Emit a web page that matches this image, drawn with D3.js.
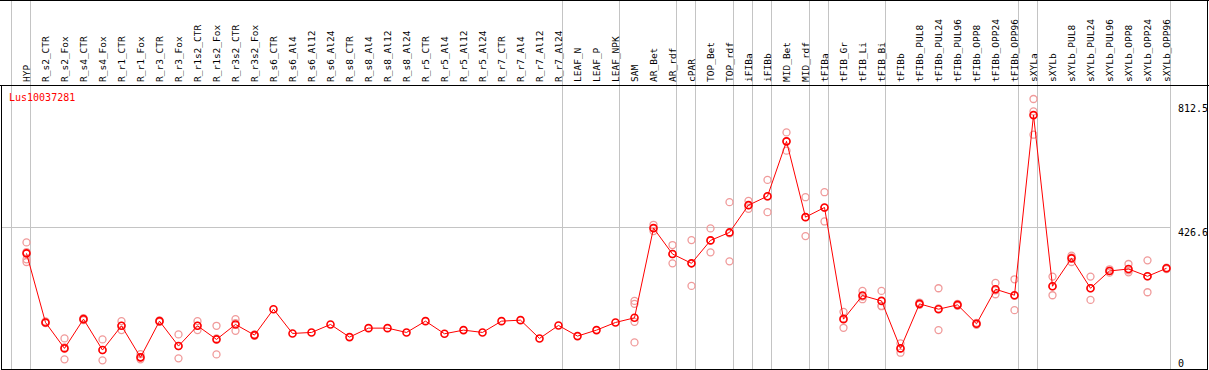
<!DOCTYPE html>
<html>
<head>
<meta charset="utf-8">
<script src="https://cdn.jsdelivr.net/npm/d3@7"></script>
<style>
body { margin: 0; background: #fff; }
svg text { font-family: "DejaVu Sans Mono", monospace; font-size: 10px; }
svg text.col { font-size: 9.5px; }
</style>
</head>
<body>
<svg class="chart" width="1209" height="370"></svg>
<script>
const categories = ['HYP', 'R_s2_CTR', 'R_s2_Fox', 'R_s4_CTR', 'R_s4_Fox', 'R_r1_CTR', 'R_r1_Fox', 'R_r3_CTR', 'R_r3_Fox',
    'R_r1s2_CTR', 'R_r1s2_Fox', 'R_r3s2_CTR', 'R_r3s2_Fox', 'R_s6_CTR', 'R_s6_Al4', 'R_s6_Al12', 'R_s6_Al24',
    'R_s8_CTR', 'R_s8_Al4', 'R_s8_Al12', 'R_s8_Al24', 'R_r5_CTR', 'R_r5_Al4', 'R_r5_Al12', 'R_r5_Al24',
    'R_r7_CTR', 'R_r7_Al4', 'R_r7_Al12', 'R_r7_Al24', 'LEAF_N', 'LEAF_P', 'LEAF_NPK', 'SAM', 'AR_Bet', 'AR_rdf',
    'cPAR', 'TOP_Bet', 'TOP_rdf', 'iFIBa', 'iFIBb', 'MID_Bet', 'MID_rdf', 'tFIBa', 'tFIB_Gr', 'tFIB_Li', 'tFIB_Bi',
    'tFIBb', 'tFIBb_PUL8', 'tFIBb_PUL24', 'tFIBb_PUL96', 'tFIBb_OPP8', 'tFIBb_OPP24', 'tFIBb_OPP96',
    'sXYLa', 'sXYLb', 'sXYLb_PUL8', 'sXYLb_PUL24', 'sXYLb_PUL96', 'sXYLb_OPP8', 'sXYLb_OPP24', 'sXYLb_OPP96']

const means = [348, 140, 62, 150, 57, 130, 35, 144, 69, 130, 89, 134, 102, 180, 107, 110, 134,
    96, 123, 123, 110, 144, 106, 117, 110, 144, 147, 92, 131, 99, 117, 140, 154, 424, 346,
    318, 387, 411, 493, 520, 685, 457, 486, 150, 221, 205, 62, 196, 180, 193, 136, 240, 222,
    764, 249, 333, 243, 295, 301, 279, 303]

const replicates = [[381, 352, 322, 330], [143, 140, 138], [92, 65, 29], [153, 150, 147], [89, 57, 26],
    [144, 130, 117], [45, 35, 29], [146, 144, 142], [104, 69, 32], [144, 130, 117], [130, 92, 44],
    [150, 138, 115], [104, 102, 100], [], [], [], [],
    [], [], [], [], [], [], [], [],
    [], [], [], [], [], [], [], [205, 196, 142, 80], [434, 424, 415], [373, 346, 318],
    [388, 318, 250], [423, 387, 351], [502, 408, 324], [506, 493, 482], [569, 519, 472], [712, 685, 657],
    [517, 457, 400], [532, 485, 444], [172, 152, 124], [235, 218, 210], [235, 190, 189],
    [77, 62, 49], [200, 197, 193], [243, 182, 117], [196, 193, 190], [139, 136, 133], [259, 237, 225], [270, 220, 177],
    [812.5, 775, 705], [278, 249, 222], [341, 336, 322], [278, 243, 208], [300, 295, 290], [316, 297, 291],
    [327, 279, 231], [305, 303, 301]]

// first category of every block; a grey rule is drawn in front of each
const groupStarts = ['HYP', 'R_s2_CTR', 'LEAF_N', 'SAM', 'cPAR', 'TOP_Bet', 'iFIBa', 'iFIBb', 'MID_Bet',
    'tFIBa', 'tFIB_Gr', 'tFIBb', 'sXYLa', 'sXYLb']
const yTicks = [0, 426.6, 812.5]
const geneName = 'Lus10037281'

const svg = d3.select('.chart')
const width = +svg.attr('width')
const height = +svg.attr('height')
const headerH = 85
const plotBottom = 369
const pointOff = 15

const xscale = d3.scaleBand()
    .domain(categories)
    .range([11.5, 11.5 + categories.length * 19])
const yscale = d3.scaleLinear()
    .domain([0, 812.5])
    .range([plotBottom, 99])

const px = c => xscale(c) + pointOff

// grey rules
const grid = svg.append('g').attr('stroke', '#c4c4c4').attr('shape-rendering', 'crispEdges')
grid.selectAll('line.v').data(groupStarts.map(c => xscale(c)).concat([xscale.range()[1]]))
    .enter().append('line')
    .attr('class', 'v')
    .attr('x1', d => d).attr('x2', d => d)
    .attr('y1', 0).attr('y2', plotBottom)
grid.append('line')
    .attr('x1', 1).attr('x2', xscale.range()[1])
    .attr('y1', Math.round(yscale(426.6)) + 0.5).attr('y2', Math.round(yscale(426.6)) + 0.5)

// frame
const frame = svg.append('g').attr('stroke', '#000').attr('shape-rendering', 'crispEdges').attr('fill', 'none')
frame.append('line').attr('x1', 0).attr('x2', width).attr('y1', 0.5).attr('y2', 0.5)
frame.append('line').attr('x1', 0).attr('x2', width).attr('y1', headerH + 0.5).attr('y2', headerH + 0.5)
frame.append('rect').attr('x', 1.5).attr('y', headerH + 0.5)
    .attr('width', width - 3).attr('height', plotBottom - headerH)
frame.append('line').attr('x1', width - 1.5).attr('x2', width - 1.5).attr('y1', 0).attr('y2', headerH)

// column labels
svg.append('g').selectAll('text').data(categories)
    .enter().append('text')
    .attr('class', 'col')
    .attr('transform', d => `translate(${px(d)},${headerH - 3}) rotate(-90)`)
    .attr('dy', '0.35em')
    .attr('fill', '#000')
    .text(d => d)

// right axis labels
svg.append('g').selectAll('text').data(yTicks)
    .enter().append('text')
    .attr('x', 1178)
    .attr('y', d => yscale(d) + (d === 0 ? -6 : d === 812.5 ? 9 : 5))
    .attr('dy', '0.35em')
    .attr('fill', '#000')
    .text(d => d)

svg.append('text')
    .attr('x', 9).attr('y', 97).attr('dy', '0.35em')
    .attr('fill', 'red')
    .text(geneName)

// replicate values
const reps = []
replicates.forEach((r, i) => r.forEach(v => reps.push({ c: categories[i], v: v })))
svg.append('g').selectAll('circle').data(reps)
    .enter().append('circle')
    .attr('cx', d => px(d.c))
    .attr('cy', d => yscale(d.v))
    .attr('r', 3.5)
    .attr('fill', 'none')
    .attr('stroke', '#f09a9a')
    .attr('stroke-width', 1.3)

// mean profile
const data = categories.map((c, i) => ({ c: c, v: means[i] }))
const line = d3.line().x(d => px(d.c)).y(d => yscale(d.v))
svg.append('path').datum(data)
    .attr('d', line)
    .attr('fill', 'none')
    .attr('stroke', 'red')
    .attr('stroke-width', 1)

svg.append('g').selectAll('circle').data(data)
    .enter().append('circle')
    .attr('cx', d => px(d.c))
    .attr('cy', d => yscale(d.v))
    .attr('r', 3.5)
    .attr('fill', 'none')
    .attr('stroke', 'red')
    .attr('stroke-width', 1.6)
</script>
</body>
</html>
